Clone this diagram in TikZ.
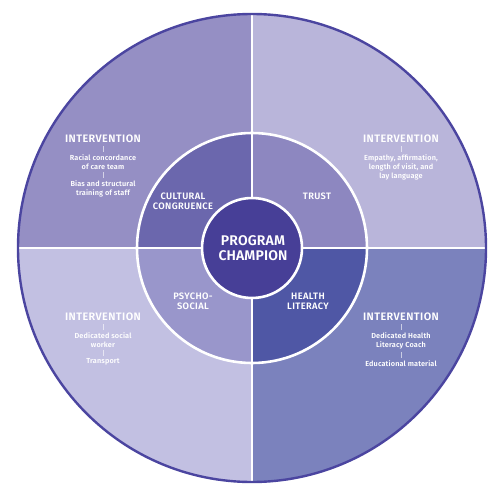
\documentclass[tikz,border=0pt]{standalone}
\usepackage{fontspec}
\setmainfont{Fira Sans}[BoldFont={Fira Sans SemiBold}]
\usetikzlibrary{positioning}
\definecolor{WheelRim}{HTML}{4B45A0}
\definecolor{OuterTL}{HTML}{958FC4}
\definecolor{OuterTR}{HTML}{B9B5DA}
\definecolor{OuterBL}{HTML}{C2C0E2}
\definecolor{OuterBR}{HTML}{7B82BD}
\definecolor{MidTL}{HTML}{6B67AD}
\definecolor{MidTR}{HTML}{8D87C0}
\definecolor{MidBL}{HTML}{9996CB}
\definecolor{MidBR}{HTML}{4F57A5}
\definecolor{CoreFill}{HTML}{473F97}
\tikzset{
  every node/.style={text=white, align=center, inner sep=0pt},
  head/.style={font=\bfseries\fontsize{10.8}{12}\selectfont\addfontfeatures{LetterSpace=4}},
  item/.style={font=\bfseries\fontsize{7.3}{9}\selectfont\addfontfeatures{LetterSpace=2}},
  ring/.style={font=\bfseries\fontsize{9.3}{10}\selectfont\addfontfeatures{LetterSpace=4}},
  core/.style={font=\bfseries\fontsize{14}{15}\selectfont\addfontfeatures{LetterSpace=1}},
  divider/.style={draw=white, line width=2.6pt},
  tick/.style={draw=white, draw opacity=0.6, line width=0.5pt, shorten <=3pt, shorten >=2pt},
}

\begin{document}
\begin{tikzpicture}[x=1pt,y=-1pt]
  \useasboundingbox (0,0) rectangle (500,500);
  % wheel centre at (252,248); radii 234 / 115 / 50
  \coordinate (hub) at (252,248);
  % outer quadrants
  \begin{scope}
    \clip (hub) circle (234);
    \fill[OuterTL] (0,0) rectangle (hub);
    \fill[OuterTR] (500,0) rectangle (hub);
    \fill[OuterBL] (0,500) rectangle (hub);
    \fill[OuterBR] (500,500) rectangle (hub);
  \end{scope}
  % middle quadrants
  \begin{scope}
    \clip (hub) circle (115);
    \fill[MidTL] (0,0) rectangle (hub);
    \fill[MidTR] (500,0) rectangle (hub);
    \fill[MidBL] (0,500) rectangle (hub);
    \fill[MidBR] (500,500) rectangle (hub);
  \end{scope}
  \draw[divider] (252,14) -- (252,482);
  \draw[divider] (18,248) -- (486,248);
  \draw[divider] (hub) circle (115);
  \draw[WheelRim, line width=2.4pt] (hub) circle (234);
  \fill[CoreFill] (hub) circle (50);
  \draw[divider] (hub) circle (50);

  % centre and ring labels
  \node[core] (champion) at (253,248) {PROGRAM\\CHAMPION};
  \node[ring] (culture) at (183,201) {CULTURAL\\CONGRUENCE};
  \node[ring] (trust) at (317,196) {TRUST};
  \node[ring] (psycho) at (193,301) {PSYCHO-\\SOCIAL};
  \node[ring] (literacy) at (308,301) {HEALTH\\LITERACY};

  % top left intervention
  \node[head] (tlhead) at (103,139) {INTERVENTION};
  \node[item, below=11pt of tlhead] (tlitemA) {Racial concordance\\of care team};
  \node[item, below=11pt of tlitemA] (tlitemB) {Bias and structural\\training of staff};
  \draw[tick] (tlhead) -- (tlhead |- tlitemA.north);
  \draw[tick] (tlitemA) -- (tlitemA |- tlitemB.north);

  % top right intervention
  \node[head] (trhead) at (401,139) {INTERVENTION};
  \node[item, below=11pt of trhead] (tritem) {Empathy, affirmation,\\length of visit, and\\lay language};
  \draw[tick] (trhead) -- (trhead |- tritem.north);

  % bottom left intervention
  \node[head] (blhead) at (103,317) {INTERVENTION};
  \node[item, below=11pt of blhead] (blitemA) {Dedicated social\\worker};
  \node[item, below=11pt of blitemA] (blitemB) {Transport};
  \draw[tick] (blhead) -- (blhead |- blitemA.north);
  \draw[tick] (blitemA) -- (blitemA |- blitemB.north);

  % bottom right intervention
  \node[head] (brhead) at (401,317) {INTERVENTION};
  \node[item, below=11pt of brhead] (britemA) {Dedicated Health\\Literacy Coach};
  \node[item, below=11pt of britemA] (britemB) {Educational material};
  \draw[tick] (brhead) -- (brhead |- britemA.north);
  \draw[tick] (britemA) -- (britemA |- britemB.north);
\end{tikzpicture}
\end{document}
